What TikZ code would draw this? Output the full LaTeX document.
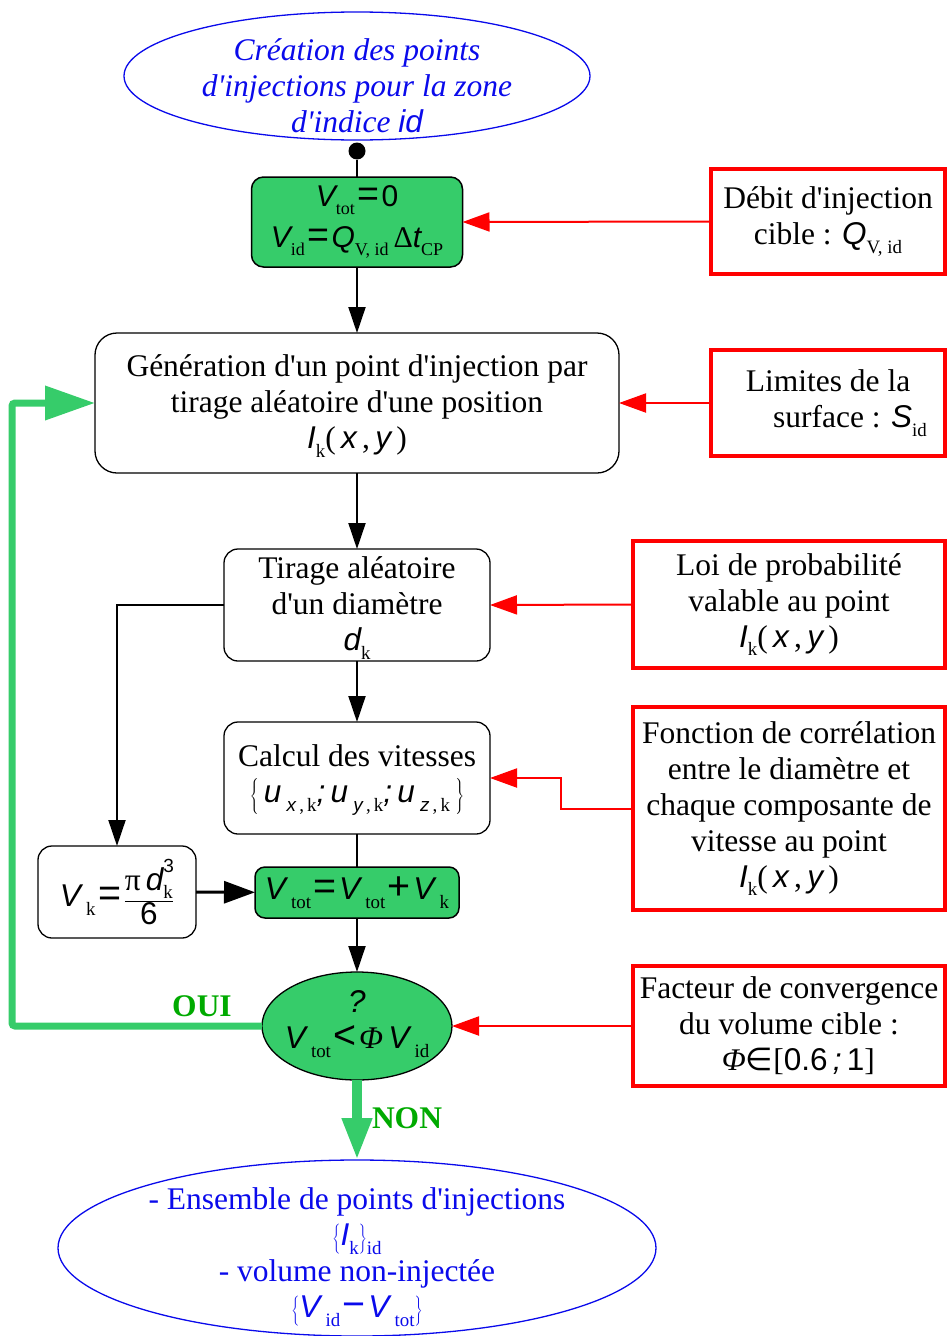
\documentclass[tikz,border=0pt]{standalone}
\usepackage{fontspec}
\setmainfont{Liberation Serif}[Ligatures=TeXOff]
\newfontfamily\sansvar{Liberation Sans}
\newfontfamily\symfam{DejaVu Sans}
\usetikzlibrary{positioning,arrows.meta,shapes.geometric}

\definecolor{boxgreen}{RGB}{54,204,106}
\definecolor{labelgreen}{RGB}{0,170,0}
\definecolor{stageblue}{RGB}{10,10,235}

% variables in sans italic, indices in small upright serif
\newcommand\va[1]{{\sansvar\itshape #1}}
\newcommand\vs[1]{{\sansvar #1}}
\makeatletter
\newcommand\ix[1]{\raisebox{-0.28em}{\fontsize{\strip@pt\dimexpr\f@size pt*6/10\relax}{0}\selectfont\rmfamily\upshape #1}}
\newcommand\op[1]{\hspace{0.08em}{\fontsize{\strip@pt\dimexpr\f@size pt*5/4\relax}{0}\selectfont\sansvar #1}\hspace{0.08em}}
\makeatother

\begin{document}
\begin{tikzpicture}[x=1pt,y=-1pt,
    every node/.style={inner sep=0pt,outer sep=0pt},
    font=\fontsize{31.5}{36}\selectfont,
    flow/.style={draw,line width=1.3pt,rounded corners=14pt,align=center},
    calc/.style={flow,fill=boxgreen,line width=1.5pt},
    input/.style={draw=red,line width=4pt,align=center},
    stage/.style={draw=stageblue,ellipse,line width=1.3pt},
    stagetext/.style={align=center,text=stageblue},
    link/.style={line width=2pt,-{Triangle[length=26pt,width=17pt]}},
    biglink/.style={line width=3pt,-{Triangle[length=31pt,width=22pt]}},
    feed/.style={red,line width=2pt,-{Triangle[length=27pt,width=19pt]}},
    retour/.style={boxgreen,line width=7pt,rounded corners=3pt,-{Triangle[length=50pt,width=33pt]}},
    suite/.style={boxgreen,line width=10pt,-{Triangle[length=42pt,width=28pt]}},
    choix/.style={text=labelgreen,font=\fontsize{31.5}{36}\selectfont\bfseries}]
  \useasboundingbox (0,0) rectangle (949,1336);

  % main flow
  \node[stage,minimum width=466pt,minimum height=128pt] (start) at (357,76) {};
  \node[stagetext,font=\fontsize{31.5}{36}\selectfont\itshape] (startText) at (357,86)
       {Création des points\\d'injections pour la zone\\d'indice \va{id}};
  \node[circle,fill=black,minimum size=17pt] (dot) at (357,151) {};
  \node[calc,minimum width=211pt,minimum height=90pt,rounded corners=12pt,
        font=\fontsize{30}{43}\selectfont] (init) at (357,222)
       {\va{V}\ix{tot}\op{=}\vs{0}\\[-2pt]\va{V}\ix{id}\op{=}\va{Q}\ix{V, id}\,Δ\va{t}\ix{CP}};
  \node[flow,minimum width=524pt,minimum height=140pt,rounded corners=22pt] (gen) at (357,403) {};
  \node[align=center] (genText) at (357,406)
       {Génération d'un point d'injection par\\tirage aléatoire d'une position\\
        \va{I}\ix{k}(\,\va{x}\,,\,\va{y}\,)};
  \node[flow,minimum width=266pt,minimum height=112pt] (diam) at (357,605) {};
  \node[align=center] (diamText) at (357,608)
       {Tirage aléatoire\\d'un diamètre\\\va{d}\ix{k}};
  \node[flow,minimum width=266pt,minimum height=112pt] (vit) at (357,778) {};
  \node[align=center] (vitText) at (357,780)
       {Calcul des vitesses\\
        $\left\{\mbox{\,\va{u}\,\ix{\va{x}\,,\,k}\va{;}\,\va{u}\,\ix{\va{y}\,,\,k}\va{;}\,\va{u}\,\ix{\va{z}\,,\,k}\,}\right\}$};
  \node[flow,minimum width=158pt,minimum height=92pt] (vol) at (117,892)
       {\va{V}\,\ix{k}\op{=}$\displaystyle\frac{\mbox{π\,\va{d}\rlap{\raisebox{0.55em}{\fontsize{19}{0}\selectfont\sansvar 3}}\ix{k}}}{\mbox{\vs{6}}}$};
  \node[calc,minimum width=204pt,minimum height=51pt,rounded corners=10pt] (sum) at (357,892.5)
       {\va{V}\,\ix{tot}\op{=}\va{V}\,\ix{tot}\op{+}\va{V}\,\ix{k}};
  \node[ellipse,draw,line width=1.3pt,fill=boxgreen,minimum width=190pt,minimum height=108pt] (test) at (357,1026) {};
  \node[align=center] (testText) at (357,1024)
       {\va{?}\\\va{V}\,\ix{tot}\op{<}{\itshape Φ}\,\va{V}\,\ix{id}};
  \node[stage,minimum width=598pt,minimum height=176pt] (result) at (357,1248) {};
  \node[stagetext] (resultText) at (357,1257)
       {- Ensemble de points d'injections\\
        $\left\{\mbox{\va{I}\ix{k}}\right\}$\ix{id}\\
        - volume non-injectée\\
        $\left\{\mbox{\va{V}\,\ix{id}\op{−}\va{V}\,\ix{tot}}\right\}$};

  % data boxes
  \node[input,minimum width=234pt,minimum height=105pt] (debit) at (828,221.5)
       {Débit d'injection\\cible : \va{Q}\ix{V, id}};
  \node[input,minimum width=234pt,minimum height=106pt] (surf) at (828,403)
       {Limites de la\\\hspace*{1.4em}surface : \va{S}\ix{id}};
  \node[input,minimum width=312pt,minimum height=127pt] (loi) at (789,604.5)
       {Loi de probabilité\\valable au point\\\va{I}\ix{k}(\,\va{x}\,,\,\va{y}\,)};
  \node[input,minimum width=312pt,minimum height=203pt] (corr) at (789,808.5)
       {Fonction de corrélation\\entre le diamètre et\\chaque composante de\\vitesse au point\\
        \va{I}\ix{k}(\,\va{x}\,,\,\va{y}\,)};
  \node[input,minimum width=312pt,minimum height=120pt] (conv) at (789,1026)
       {Facteur de convergence\\du volume cible :\\\hspace*{0.6em}{\itshape Φ}{\symfam ∈}[\vs{0.6}\,\va{;}\,\vs{1}]};

  % branch labels
  \node[choix] (oui) at (202,1006) {OUI};
  \node[choix] (non) at (407,1118) {NON};

  % connectors
  \draw[line width=2pt] (dot) -- (init.north);
  \draw[link] (init) -- (gen);
  \draw[link] (gen) -- (diam);
  \draw[link] (diam) -- (vit);
  \draw[line width=2pt] (vit) -- (sum);
  \draw[link] (sum) -- (test);
  \draw[link] (diam.west) -| (vol.north);
  \draw[biglink] (vol) -- (sum);
  \draw[feed] (debit.west) -- (init.east);
  \draw[feed] (surf.west) -- (gen.east);
  \draw[feed] (loi.west) -- (diam.east);
  \draw[feed] (corr.west) -- ++(-72,0) |- (vit.east);
  \draw[feed] (conv.west) -- (test.east);
  \coordinate (back) at (12,1026);
  \draw[retour] (test.west) -- (back) |- (gen.west);
  \draw[suite] (test.south) -- (result.north);
\end{tikzpicture}
\end{document}
